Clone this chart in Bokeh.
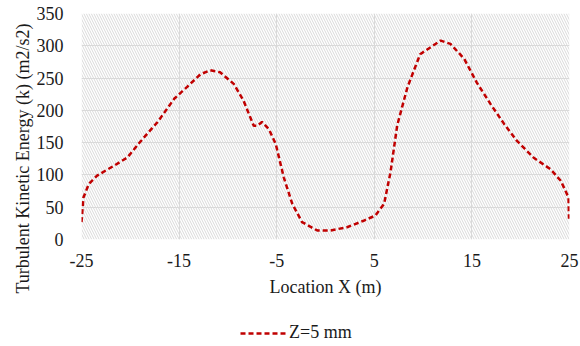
from bokeh.plotting import figure
from bokeh.layouts import column
from bokeh.models import (Range1d, FixedTicker, BoxAnnotation, Legend, LegendItem, Title)
from bokeh.embed import file_html
from bokeh.resources import INLINE

# Data
x_loc = [-25.0, -24.8, -24.25, -23.4, -21.7, -20.3, -19.0, -17.2, -15.5, -14.2, -12.8, -11.8,
         -10.8, -9.4, -8.4, -7.35, -7.0, -6.5, -5.8, -5.1, -4.27, -3.4, -2.4, -0.85, 0.5,
         2.2, 3.9, 5.1, 6.0, 6.66, 7.35, 8.4, 9.7, 11.8, 12.8, 14.2, 15.5, 16.9, 18.3, 19.6,
         21.3, 23.05, 24.1, 24.9, 24.95]
k_val = [27, 65, 86, 99, 114, 127, 151, 182, 218, 236, 256, 262,
         259, 241, 215, 176, 176, 182, 171, 148, 96, 55, 27, 14, 14,
         19, 29, 37, 55, 104, 177, 236, 287, 308, 303, 280, 243, 210, 179, 153,
         127, 109, 91, 65, 32]
x_ticks = [-25, -15, -5, 5, 15, 25]
y_ticks = [0, 50, 100, 150, 200, 250, 300, 350]
series_name = "Z=5 mm"
x_title = "Location X (m)"
y_title = "Turbulent Kinetic Energy (k) (m2/s2)"

FONT = "Liberation Serif"
FS = "18px"
TXT = "#1a1a1a"
LINE_COLOR = "#c00000"

p = figure(frame_width=488, frame_height=226, output_backend="svg", toolbar_location=None,
           x_range=Range1d(-25, 25), y_range=Range1d(0, 350),
           min_border_left=81, min_border_right=11, min_border_top=13, min_border_bottom=67)
p.outline_line_color = None
p.background_fill_color = "white"

hatch = BoxAnnotation(fill_alpha=0, line_color=None, hatch_pattern="\\", hatch_color="#d9d9d9",
                      hatch_scale=5, hatch_weight=1.0, level="underlay")
p.add_layout(hatch)

for ax in (p.xaxis[0], p.yaxis[0]):
    ax.axis_line_color = None
    ax.major_tick_line_color = None
    ax.minor_tick_line_color = None
    ax.major_tick_out = 0
    ax.major_tick_in = 0
    ax.minor_tick_out = 0
    ax.major_label_text_font = FONT
    ax.major_label_text_font_size = FS
    ax.major_label_text_color = TXT

p.xaxis.ticker = FixedTicker(ticks=x_ticks)
p.yaxis.ticker = FixedTicker(ticks=y_ticks)
p.xaxis.major_label_overrides = {t: str(t) for t in x_ticks}
p.yaxis.major_label_overrides = {t: str(t) for t in y_ticks}
p.xaxis.major_label_standoff = 14
p.yaxis.major_label_standoff = 18
p.xaxis.axis_label = x_title
p.xaxis.axis_label_text_font = FONT
p.xaxis.axis_label_text_font_size = FS
p.xaxis.axis_label_text_font_style = "normal"
p.xaxis.axis_label_text_color = TXT
p.xaxis.axis_label_standoff = 7

p.xgrid.grid_line_color = "#d9d9d9"
p.ygrid.grid_line_color = "#d9d9d9"
p.xgrid.grid_line_width = 1
p.ygrid.grid_line_width = 1

ytitle = Title(text=y_title, align="left", offset=-54, text_font=FONT,
               text_font_size=FS, text_font_style="normal", text_color=TXT,
               standoff=2)
p.add_layout(ytitle, "left")

p.line(x_loc, k_val, line_color=LINE_COLOR, line_width=2.5, line_dash="5 3")

# Legend strip below the chart (series drawn out of its visible range; only the legend shows)
p2 = figure(width=580, height=40, output_backend="svg", toolbar_location=None,
            x_range=Range1d(0, 1), y_range=Range1d(0, 1),
            x_axis_type=None, y_axis_type=None, min_border=0)
p2.outline_line_color = None
p2.grid.visible = False
swatch = p2.line(x_loc, k_val, line_color=LINE_COLOR, line_width=2.5, line_dash="5 3")
legend = Legend(items=[LegendItem(label=series_name, renderers=[swatch])],
                location=(159, 3), orientation="horizontal",
                label_text_font=FONT, label_text_font_size=FS, label_text_color=TXT,
                glyph_width=46, label_standoff=3, border_line_color=None,
                background_fill_alpha=0, padding=0, margin=0)
p2.add_layout(legend)

layout = column(p, p2, spacing=0)

open("out.html", "w").write(file_html(layout, INLINE))
